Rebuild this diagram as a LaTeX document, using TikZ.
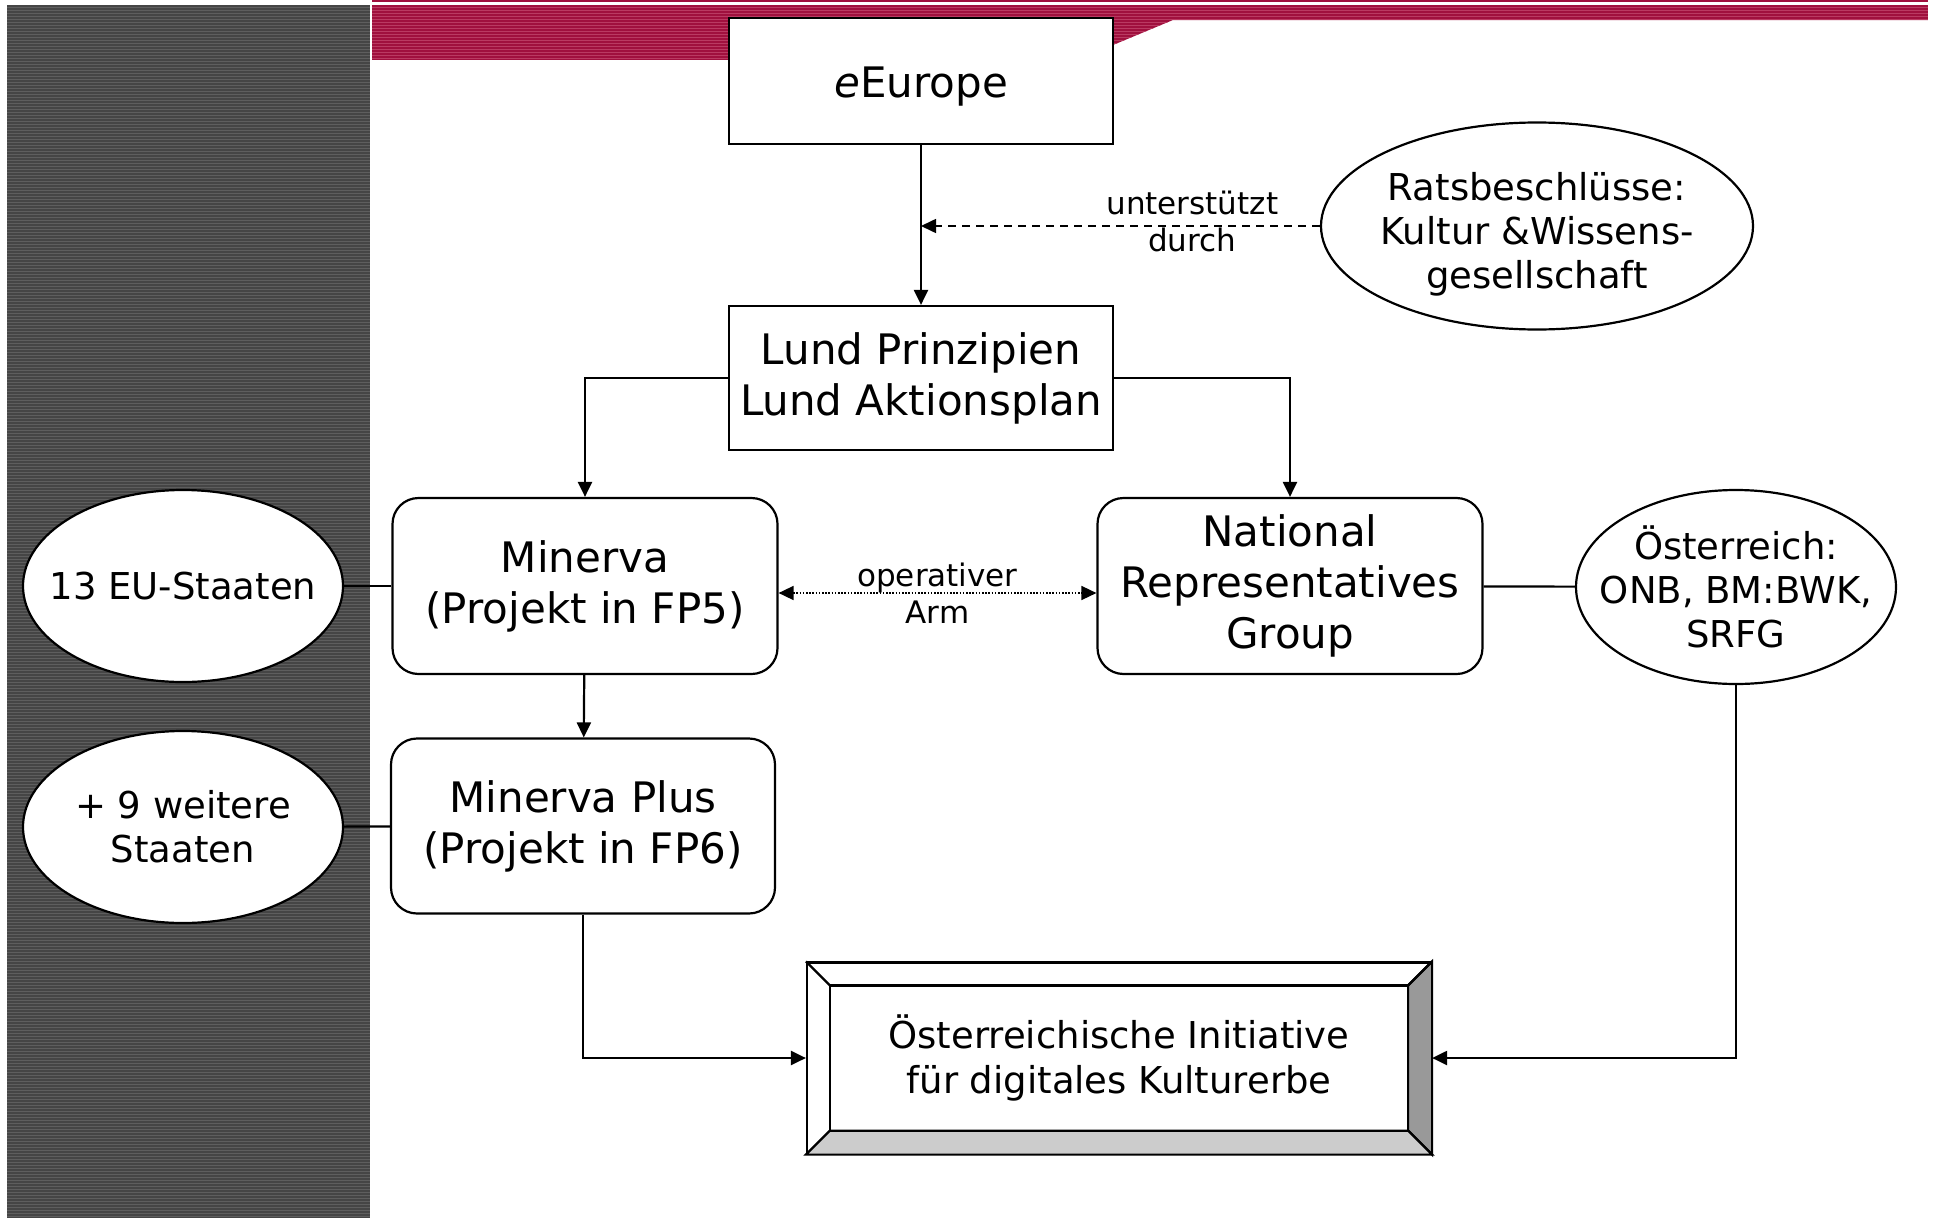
\documentclass[tikz,border=0pt]{standalone}
\usepackage{fontspec}
\setmainfont{DejaVu Sans}
\usetikzlibrary{arrows.meta}
\usetikzlibrary{shapes.geometric}
\definecolor{panelgray}{HTML}{454545}
\definecolor{stripegray}{HTML}{5E5E5E}
\definecolor{barred}{HTML}{A0103E}
\definecolor{stripered}{HTML}{BA3A62}
\definecolor{facedark}{HTML}{999999}
\definecolor{facelight}{HTML}{CCCCCC}

\begin{document}
\begin{tikzpicture}[x=1pt,y=-1pt,line width=2.2pt]
    \tikzstyle{e} = [draw, -{Triangle[length=15pt,width=14pt]}]
    \tikzstyle{ee} = [draw, {Triangle[length=15pt,width=14pt]}-{Triangle[length=15pt,width=14pt]}]
    \tikzstyle{box} = [draw, fill=white, minimum width=384pt, inner sep=0pt, align=center, font=\fontsize{42}{51}\selectfont]
    \tikzstyle{rbox} = [box, rounded corners=26pt]
    \tikzstyle{oval} = [draw, fill=white, ellipse, inner sep=-60pt, align=center, font=\fontsize{37}{44}\selectfont]
    \tikzstyle{lbl} = [align=center, font=\fontsize{31}{37}\selectfont]
    \useasboundingbox (0,0) rectangle (1933,1218);
    % striped panel and bar
    \fill[panelgray] (7,5) rectangle (370,1218);
    \foreach \y in {7,10,...,1216}
        \draw[stripegray, line width=1pt] (7,\y) -- (370,\y);
    \begin{scope}
        \clip (372,5) -- (1928,5) -- (1928,20) -- (1173,20) -- (1113,45) -- (1113,60) -- (372,60) -- cycle;
        \fill[barred] (372,0) rectangle (1928,60);
        \foreach \y in {7,10,...,58}
            \draw[stripered, line width=1pt] (372,\y) -- (1928,\y);
    \end{scope}
    \fill[barred] (372,0) rectangle (1928,2);

    \node[box, minimum height=126pt] (eEurope) at (921,81) {\raisebox{-6pt}[\height][\depth]{\textit{e}Europe}};
    \node[box, minimum height=144pt] (Lund) at (921,378) {Lund Prinzipien\\Lund Aktionsplan};
    \node[oval, minimum width=432pt, minimum height=207pt,
          label={[align=center, font=\fontsize{37}{44}\selectfont, yshift=-8pt]center:Ratsbeschlüsse:\\Kultur \&Wissens-\\gesellschaft}] (Rats) at (1537,226) {};
    \node[rbox, minimum width=385pt, minimum height=176pt] (Minerva) at (585,586) {Minerva\\(Projekt in FP5)};
    \node[rbox, minimum width=385pt, minimum height=176pt] (NRG) at (1290,586) {National\\Representatives\\Group};
    \node[oval, minimum width=320pt, minimum height=194pt] (Oe) at (1736,587) {Österreich:\\ONB, BM:BWK,\\SRFG};
    \node[oval, minimum width=320pt, minimum height=192pt] (EU) at (183,586) {13 EU-Staaten};
    \node[oval, minimum width=320pt, minimum height=192pt] (Weitere) at (183,827) {+ 9 weitere\\Staaten};
    \node[rbox, minimum height=175pt] (MPlus) at (583,826) {Minerva Plus\\(Projekt in FP6)};
    \node[box, minimum width=624pt, minimum height=191pt, font=\fontsize{37}{45}\selectfont] (Init) at (1119,1058) {Österreichische Initiative\\für digitales Kulturerbe};
    % bevel faces
    \filldraw[fill=facedark] (Init.north east) -- (Init.south east) -- ([shift={(-24,-24)}]Init.south east) -- ([shift={(-24,24)}]Init.north east) -- cycle;
    \filldraw[fill=facelight] (Init.south west) -- (Init.south east) -- ([shift={(-24,-24)}]Init.south east) -- ([shift={(24,-24)}]Init.south west) -- cycle;
    \draw ([shift={(24,24)}]Init.north west) rectangle ([shift={(-24,-24)}]Init.south east);
    \draw (Init.north west) -- ([shift={(24,24)}]Init.north west);
    \draw (Init.north east) -- ([shift={(-24,24)}]Init.north east);

    \draw [e] (eEurope) -- (Lund);
    \draw [e, line width=1.6pt, dash pattern=on 8pt off 6pt] (Rats.west) -- (eEurope.south |- Rats.west) node[lbl, pos=.32, yshift=5pt]{unterstützt\\durch};
    \draw [e] (Lund.west) -| (Minerva.north);
    \draw [e] (Lund.east) -| (NRG.north);
    \draw [ee, line width=1.6pt, dash pattern=on 1.6pt off 1.6pt] ([yshift=-7pt]Minerva.east) -- ([yshift=-7pt]NRG.west) node[lbl, midway]{operativer\\Arm};
    \draw (EU) -- (Minerva);
    \draw (Weitere) -- (MPlus);
    \draw (NRG) -- (Oe);
    \draw [e] (Minerva) -- (MPlus);
    \draw [e] (MPlus.south) |- (Init.west);
    \draw [e] (Oe.south) |- (Init.east);
    \end{tikzpicture}
\end{document}
